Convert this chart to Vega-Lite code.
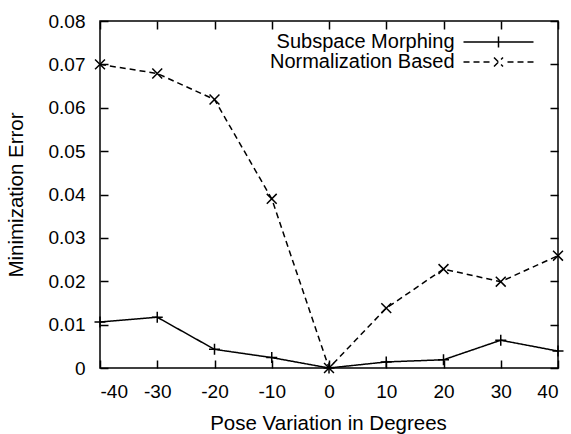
{
  "$schema": "https://vega.github.io/schema/vega-lite/v6.json",
  "width": 458,
  "height": 347,
  "autosize": {"type": "none"},
  "padding": {"left": 100, "top": 21, "right": 13, "bottom": 66},
  "background": "white",
  "config": {
    "view": {"stroke": "black", "strokeWidth": 1.5},
    "font": "Liberation Sans",
    "axis": {
      "labelFont": "Liberation Sans",
      "titleFont": "Liberation Sans",
      "labelColor": "black",
      "titleColor": "black",
      "tickColor": "black",
      "grid": false,
      "domain": false,
      "tickSize": -8,
      "tickWidth": 1.5,
      "labelFontSize": 19,
      "titleFontSize": 20.5,
      "titleFontWeight": "normal"
    }
  },
  "data": {
    "values": [
      {"pose": -40, "error": 0.0106, "method": "Subspace Morphing"},
      {"pose": -30, "error": 0.0117, "method": "Subspace Morphing"},
      {"pose": -20, "error": 0.0043, "method": "Subspace Morphing"},
      {"pose": -10, "error": 0.0024, "method": "Subspace Morphing"},
      {"pose": 0, "error": 0.0, "method": "Subspace Morphing"},
      {"pose": 10, "error": 0.0014, "method": "Subspace Morphing"},
      {"pose": 20, "error": 0.0019, "method": "Subspace Morphing"},
      {"pose": 30, "error": 0.0064, "method": "Subspace Morphing"},
      {"pose": 40, "error": 0.0039, "method": "Subspace Morphing"},
      {"pose": -40, "error": 0.0700, "method": "Normalization Based"},
      {"pose": -30, "error": 0.0679, "method": "Normalization Based"},
      {"pose": -20, "error": 0.0619, "method": "Normalization Based"},
      {"pose": -10, "error": 0.0390, "method": "Normalization Based"},
      {"pose": 0, "error": 0.0, "method": "Normalization Based"},
      {"pose": 10, "error": 0.0138, "method": "Normalization Based"},
      {"pose": 20, "error": 0.0228, "method": "Normalization Based"},
      {"pose": 30, "error": 0.0199, "method": "Normalization Based"},
      {"pose": 40, "error": 0.0259, "method": "Normalization Based"}
    ]
  },
  "layer": [
    {
      "mark": {"type": "line", "color": "black", "strokeWidth": 1.5},
      "encoding": {
        "x": {
          "field": "pose", "type": "quantitative",
          "scale": {"domain": [-40, 40], "nice": false, "zero": false},
          "axis": {
            "orient": "bottom",
            "values": [-40, -30, -20, -10, 0, 10, 20, 30, 40],
            "labelExpr": "'' + datum.value",
            "labelPadding": 22,
            "title": "Pose Variation in Degrees",
            "titleX": 228, "titleY": 61,
            "titleAlign": "center",
            "titleBaseline": "alphabetic"
          }
        },
        "y": {
          "field": "error", "type": "quantitative",
          "scale": {"domain": [0, 0.08], "nice": false},
          "axis": {
            "orient": "left",
            "values": [0, 0.01, 0.02, 0.03, 0.04, 0.05, 0.06, 0.07, 0.08],
            "format": "~g",
            "labelPadding": 23,
            "title": "Minimization Error",
            "titleX": -78, "titleY": 173.5,
            "titleAngle": 270,
            "titleAlign": "center",
            "titleBaseline": "alphabetic"
          }
        },
        "strokeDash": {
          "field": "method", "type": "nominal",
          "scale": {"domain": ["Subspace Morphing", "Normalization Based"], "range": [[1, 0], [6, 4]]},
          "legend": {
            "orient": "none", "legendX": 388.5, "legendY": 11,
            "title": null, "padding": 0,
            "symbolType": "circle", "symbolSize": 4,
            "symbolStrokeColor": "black", "symbolFillColor": "transparent", "symbolStrokeWidth": 1.5,
            "labelAlign": "right", "labelOffset": -54,
            "labelFont": "Liberation Sans", "labelFontSize": 20, "labelColor": "black",
            "labelLimit": 0, "rowPadding": -9,
            "encode": {
              "symbols": {
                "update": {
                  "shape": {"signal": "datum.value === 'Subspace Morphing' ? 'M-35,0H35M0,-5.5V5.5' : 'M-35,0H-29M-25,0H-19M-15,0H-9M9,0H15M19,0H25M29,0H35M-4.5,-4.5L4.5,4.5M-4.5,4.5L4.5,-4.5'"},
                  "strokeDash": {"value": [1, 0]},
                  "stroke": {"value": "black"},
                  "fill": {"value": "transparent"}
                }
              }
            }
          }
        }
      }
    },
    {
      "mark": {"type": "point", "filled": false, "stroke": "black", "strokeWidth": 1.5, "size": 121, "opacity": 1},
      "encoding": {
        "x": {"field": "pose", "type": "quantitative", "axis": null},
        "y": {"field": "error", "type": "quantitative", "axis": null},
        "shape": {
          "field": "method", "type": "nominal", "sort": "descending",
          "scale": {"range": ["M-1,0H1M0,-1V1", "M-0.9,-0.9L0.9,0.9M-0.9,0.9L0.9,-0.9"]},
          "legend": null
        }
      }
    },
    {
      "mark": {"type": "point", "opacity": 0},
      "encoding": {
        "x": {
          "field": "pose", "type": "quantitative",
          "axis": {"orient": "top", "values": [-40, -30, -20, -10, 0, 10, 20, 30, 40], "labels": false, "title": null}
        },
        "y": {
          "field": "error", "type": "quantitative",
          "axis": {"orient": "right", "values": [0, 0.01, 0.02, 0.03, 0.04, 0.05, 0.06, 0.07, 0.08], "labels": false, "title": null}
        }
      }
    }
  ],
  "resolve": {"axis": {"x": "independent", "y": "independent"}}
}
